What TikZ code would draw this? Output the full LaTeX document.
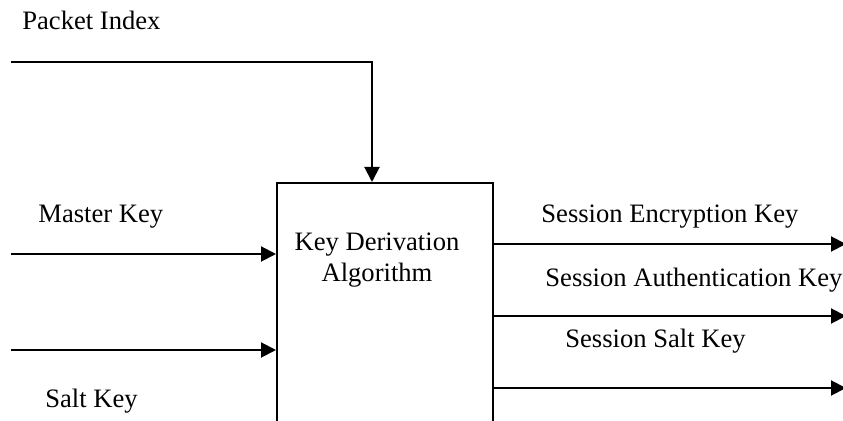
\documentclass[tikz,border=0pt]{standalone}
\usepackage{fontspec}
\setmainfont{Liberation Serif}
\usetikzlibrary{arrows.meta, positioning}

\tikzset{
    flow/.style={line width=1pt, -{Triangle[length=7.5pt, width=7.5pt]}},
    lbl/.style={inner sep=0pt, anchor=west, font=\fontsize{13.3}{15.5}\selectfont},
}

\begin{document}
\begin{tikzpicture}[x=0.5pt, y=-0.5pt]
        \useasboundingbox (0,0) rectangle (843,421);

        % the algorithm block (runs off the bottom)
        \node[draw, line width=1pt, minimum width=108pt, minimum height=130pt, inner sep=0pt, anchor=north west] (kda) at (276,182) {};
        \node[align=center, inner sep=0pt, font=\fontsize{13.3}{15.5}\selectfont] (kdatxt) at (377,260) {Key Derivation\\Algorithm};

        % inputs
        \coordinate (pi) at (11,62);
        \coordinate (mk) at (11,254);
        \coordinate (sk) at (11,350);
        \coordinate (pitop) at (372,182);

        \node[lbl] (pilbl) at (22,20) {Packet Index};
        \node[lbl] (mklbl) at (38,217) {Master Key};
        \node[lbl] (sklbl) at (45,401) {Salt Key};

        \draw[flow] (pi) -| (pitop);
        \draw[flow] (mk) -- (kda.west |- mk);
        \draw[flow] (sk) -- (kda.west |- sk);

        % outputs
        \coordinate (sek) at (846,244);
        \coordinate (sak) at (846,316);
        \coordinate (ssk) at (846,388);

        \node[lbl] (seklbl) at (541,217) {Session Encryption Key};
        \node[lbl] (saklbl) at (545,280) {Session Authentication Key};
        \node[lbl] (ssklbl) at (565,341) {Session Salt Key};

        \draw[flow] (kda.east |- sek) -- (sek);
        \draw[flow] (kda.east |- sak) -- (sak);
        \draw[flow] (kda.east |- ssk) -- (ssk);
    \end{tikzpicture}
\end{document}
